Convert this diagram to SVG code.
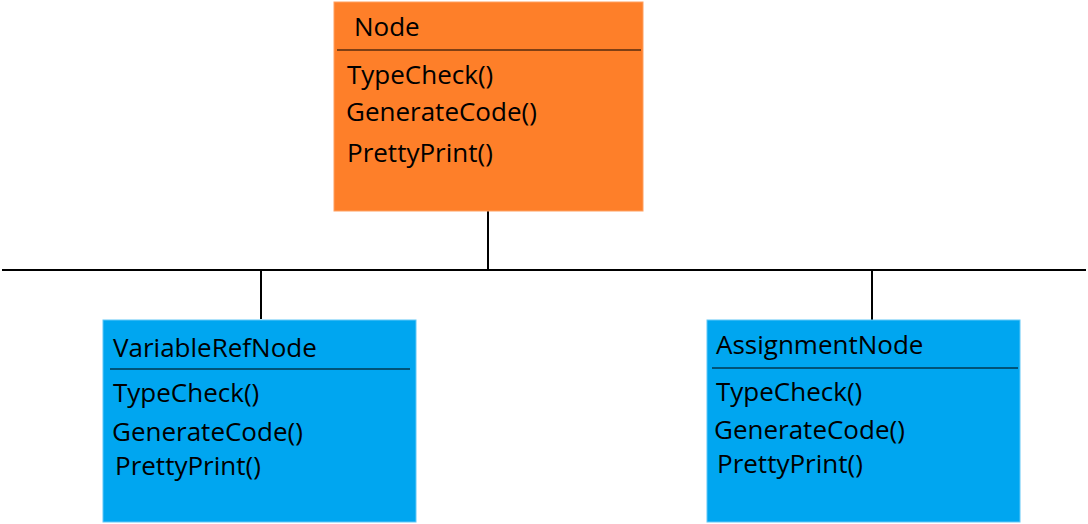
<svg xmlns="http://www.w3.org/2000/svg" width="1088" height="524" viewBox="0 0 1088 524">
<style>
.t{font-family:"Open Sans","Noto Sans",sans-serif;font-size:26px;fill:#000}
.sep{stroke:#000;stroke-width:1}
.con{stroke:#000;stroke-width:2;fill:none}
</style>
<rect width="1088" height="524" fill="#fff"/>
<g id="connectors">
<line class="con" x1="2" y1="270" x2="1086" y2="270"/>
<line class="con" x1="488" y1="211" x2="488" y2="270"/>
<line class="con" x1="261" y1="270" x2="261" y2="319"/>
<line class="con" x1="872" y1="270" x2="872" y2="320"/>
</g>
<g id="node-Node">
<rect x="334" y="2" width="309" height="209" fill="#FE7F29" stroke="#FFA060" stroke-width="1"/>
<line class="sep" x1="337" y1="50" x2="641" y2="50"/>
<text class="t" x="354" y="36">Node</text>
<text class="t" x="347" y="84">TypeCheck()</text>
<text class="t" x="346" y="121">GenerateCode()</text>
<text class="t" x="347" y="162">PrettyPrint()</text>
</g>
<g id="node-VariableRefNode">
<rect x="103" y="320" width="313" height="202" fill="#00A6F0" stroke="#60C8F8" stroke-width="1"/>
<line class="sep" x1="110" y1="369" x2="410" y2="369"/>
<text class="t" x="113" y="357">VariableRefNode</text>
<text class="t" x="113" y="402">TypeCheck()</text>
<text class="t" x="112" y="441">GenerateCode()</text>
<text class="t" x="115" y="475">PrettyPrint()</text>
</g>
<g id="node-AssignmentNode">
<rect x="707" y="320" width="313" height="202" fill="#00A6F0" stroke="#60C8F8" stroke-width="1"/>
<line class="sep" x1="712" y1="368" x2="1018" y2="368"/>
<text class="t" x="716" y="354">AssignmentNode</text>
<text class="t" x="716" y="401">TypeCheck()</text>
<text class="t" x="714" y="439">GenerateCode()</text>
<text class="t" x="717" y="473">PrettyPrint()</text>
</g>
</svg>
